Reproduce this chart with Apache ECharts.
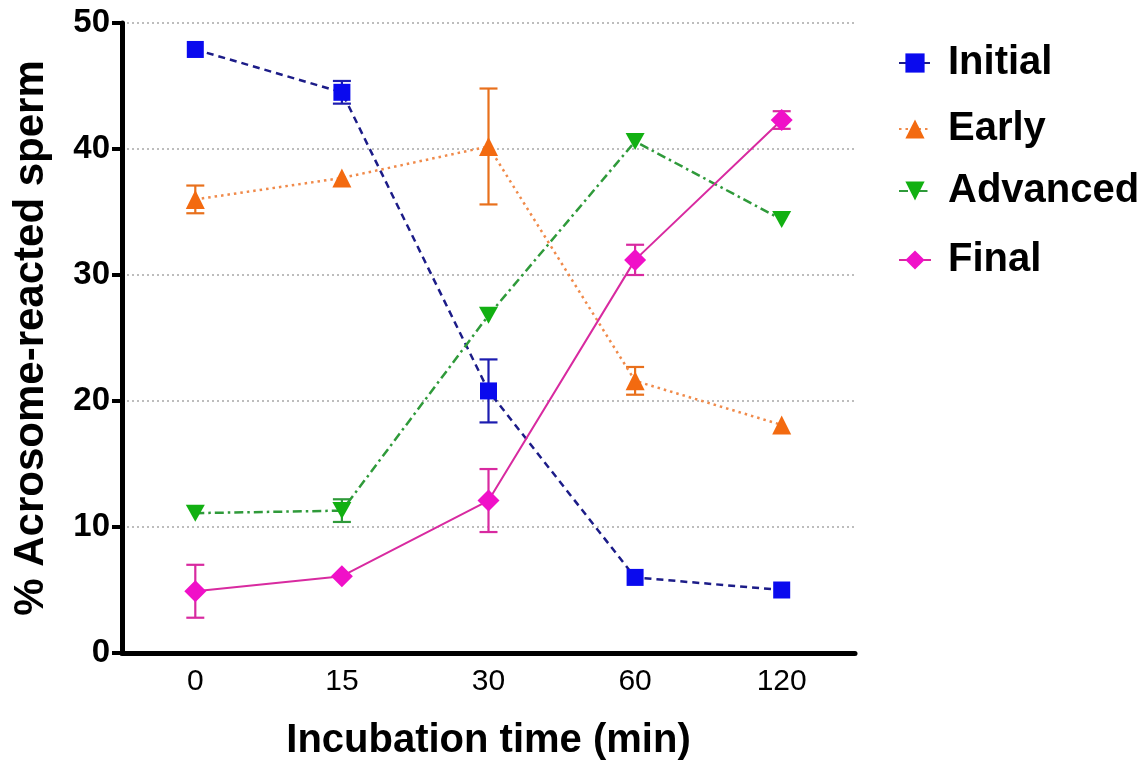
<!DOCTYPE html>
<html>
<head>
<meta charset="utf-8">
<script src="https://cdn.jsdelivr.net/npm/echarts@6/dist/echarts.min.js"></script>
<style>
html,body{margin:0;padding:0;background:#fff;}
#chart{width:1146px;height:768px;}
</style>
</head>
<body>
<div id="chart"></div>
<script>
const categories = ['0', '15', '30', '60', '120'];
const initialVals = [47.9, 44.5, 20.8, 6.0, 5.0];
const initialErr  = [0, 0.9, 2.5, 0, 0];
const earlyVals = [36.0, 37.7, 40.2, 21.6, 18.1];
const earlyErr  = [1.1, 0, 4.6, 1.1, 0];
const advancedVals = [11.1, 11.3, 26.8, 40.6, 34.4];
const advancedErr  = [0, 0.9, 0, 0, 0];
const finalVals = [4.9, 6.1, 12.1, 31.2, 42.3];
const finalErr  = [2.1, 0, 2.5, 1.2, 0.7];
const yTicks = [0, 10, 20, 30, 40, 50];

const seriesDefs = [
  {name: 'Initial', vals: initialVals, err: initialErr, symbol: 'rect', size: 17, color: '#0a0aee', line: '#1c1c88', errColor: '#1c1cb0', type: [7, 5], width: 2.5},
  {name: 'Early', vals: earlyVals, err: earlyErr, symbol: 'triangle', size: 19, color: '#f36a10', line: '#f08a4a', errColor: '#e8701c', type: [2.5, 4], width: 2.5},
  {name: 'Advanced', vals: advancedVals, err: advancedErr, symbol: 'path://M0,0 L10,0 L5,9 Z', size: 19, color: '#12b012', line: '#2f9a3a', errColor: '#2f9a3a', type: [9, 4, 2.5, 4], width: 2.5},
  {name: 'Final', vals: finalVals, err: finalErr, symbol: 'diamond', size: 22, color: '#f010c8', line: '#d82aa0', errColor: '#d82aa0', type: 'solid', width: 2}
];

const series = [];
seriesDefs.forEach(function (d) {
  const errData = [];
  d.vals.forEach(function (v, i) {
    if (d.err[i] > 0) errData.push([i, v - d.err[i], v + d.err[i]]);
  });
  series.push({
    type: 'custom',
    name: d.name + ' err',
    data: errData,
    z: 3,
    silent: true,
    renderItem: function (params, api) {
      const lo = api.coord([api.value(0), api.value(1)]);
      const hi = api.coord([api.value(0), api.value(2)]);
      const hw = 9;
      const st = {stroke: d.errColor, lineWidth: 2.2};
      return {
        type: 'group',
        children: [
          {type: 'line', shape: {x1: lo[0], y1: lo[1], x2: hi[0], y2: hi[1]}, style: st},
          {type: 'line', shape: {x1: lo[0] - hw, y1: lo[1], x2: lo[0] + hw, y2: lo[1]}, style: st},
          {type: 'line', shape: {x1: hi[0] - hw, y1: hi[1], x2: hi[0] + hw, y2: hi[1]}, style: st}
        ]
      };
    }
  });
  series.push({
    type: 'line',
    name: d.name,
    data: d.vals,
    z: 5,
    symbol: d.symbol,
    symbolSize: d.symbol.indexOf('path') === 0 ? [19, 17] : d.size,
    showAllSymbol: true,
    itemStyle: {color: d.color},
    lineStyle: {color: d.line, type: d.type, width: d.width},
    emphasis: {disabled: true}
  });
});

const legendTops = [38, 104, 166, 235];
const legends = seriesDefs.map(function (d, i) {
  return {
    data: [d.name],
    left: 893,
    top: legendTops[i],
    itemWidth: 32,
    itemHeight: 24,
    textStyle: {fontFamily: 'Liberation Sans, Arial, sans-serif', fontWeight: 'bold', fontSize: 40, color: '#000', padding: [0, 0, 0, 12]},
    selectedMode: false
  };
});

const chart = echarts.init(document.getElementById('chart'), null, {renderer: 'canvas'});
chart.setOption({
  animation: false,
  backgroundColor: '#fff',
  legend: legends,
  grid: {left: 122, right: 291, top: 23, bottom: 115},
  xAxis: {
    type: 'category',
    data: categories,
    boundaryGap: true,
    name: 'Incubation time (min)',
    nameLocation: 'middle',
    nameGap: 68,
    nameTextStyle: {fontFamily: 'Liberation Sans, Arial, sans-serif', fontWeight: 'bold', fontSize: 40, color: '#000'},
    axisLine: {lineStyle: {color: '#000', width: 5}},
    axisTick: {alignWithLabel: true, length: 12, lineStyle: {color: '#000', width: 4}},
    axisLabel: {fontFamily: 'Liberation Sans, Arial, sans-serif', fontSize: 30, color: '#000', margin: 14},
    splitLine: {show: false}
  },
  yAxis: {
    type: 'value',
    min: 0,
    max: 50,
    interval: 10,
    name: '% Acrosome-reacted sperm',
    nameLocation: 'middle',
    nameGap: 70,
    nameTextStyle: {fontFamily: 'Liberation Sans, Arial, sans-serif', fontWeight: 'bold', fontSize: 42, color: '#000'},
    axisLine: {show: true, lineStyle: {color: '#000', width: 5}},
    axisTick: {show: true, length: 10, lineStyle: {color: '#000', width: 4}},
    axisLabel: {fontFamily: 'Liberation Sans, Arial, sans-serif', fontWeight: 'bold', fontSize: 33, color: '#000', margin: 12,
      formatter: function (v) { return yTicks.indexOf(v) >= 0 ? String(v) : ''; }},
    splitLine: {show: true, lineStyle: {color: '#a8a8a8', type: [2, 3], width: 1.5}}
  },
  series: series
});
</script>
</body>
</html>
